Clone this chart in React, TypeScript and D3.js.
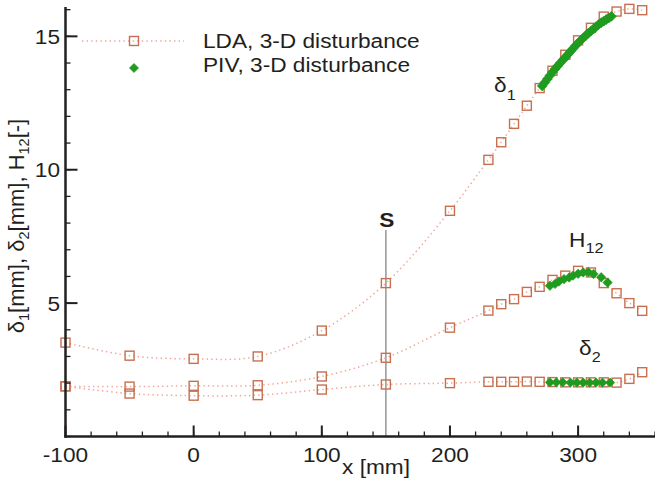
import React from "react";
import * as d3 from "d3";

// ---- data ----
const xLDA = [-100, -50, 0, 50, 100, 150, 200, 230, 240, 250, 260, 270, 280, 290, 300, 310, 320, 330, 340, 350];
const delta1LDA = [3.52, 3.03, 2.91, 3.0, 3.97, 5.75, 8.46, 10.37, 11.03, 11.72, 12.4, 13.06, 13.71, 14.31, 14.85, 15.32, 15.74, 15.93, 16.03, 15.98];
const h12LDA = [1.88, 1.87, 1.9, 1.92, 2.25, 2.95, 4.08, 4.72, 4.96, 5.15, 5.42, 5.61, 5.87, 6.03, 6.21, 6.15, 5.75, 5.37, 5.0, 4.71];
const delta2LDA = [1.88, 1.61, 1.53, 1.55, 1.76, 1.95, 2.0, 2.05, 2.05, 2.05, 2.06, 2.05, 2.04, 2.03, 2.03, 2.03, 2.03, 2.02, 2.16, 2.41];

const xPIVd1 = [272, 274, 276, 278, 280, 282, 284, 286, 288, 290, 292, 294, 296, 298, 300, 302, 304, 306, 308, 310, 312, 314, 316, 318, 320, 322, 324, 326];
const delta1PIV = [13.14, 13.27, 13.4, 13.53, 13.66, 13.78, 13.89, 14.0, 14.11, 14.21, 14.32, 14.43, 14.54, 14.65, 14.75, 14.85, 14.94, 15.03, 15.12, 15.2, 15.28, 15.36, 15.44, 15.51, 15.57, 15.63, 15.69, 15.75];

const xPIVh12 = [278, 282, 285, 289, 293, 296, 300, 304, 308, 312, 318, 323];
const h12PIV = [5.65, 5.72, 5.81, 5.9, 5.96, 6.03, 6.1, 6.15, 6.16, 6.09, 5.97, 5.77];

const xPIVd2 = [278, 283, 288, 294, 299, 304, 309, 314, 319, 325];
const delta2PIV = [2.03, 2.03, 2.03, 2.02, 2.02, 2.02, 2.02, 2.02, 2.02, 2.02];

const xMajorTicks = [-100, 0, 100, 200, 300];
const yMajorTicks = [5, 10, 15];
const legendLabels = ["LDA, 3-D disturbance", "PIV, 3-D disturbance"];
const sPosition = 150;

// ---- styles ----
const W = 655;
const H = 485;
const AXIS = "#231f20";
const SQ = "#c6704f";
const DOT = "#f0a59b";
const GREEN = "#1f9b1f";
const FONT = "'Liberation Sans', Arial, Helvetica, sans-serif";
const SX = 1.08;

const x = d3.scaleLinear().domain([-100, 360]).range([65.5, 655]);
const y = d3.scaleLinear().domain([0, 16.1]).range([436.5, 7]);

const lineGen = d3
  .line<[number, number]>()
  .x((d) => x(d[0]))
  .y((d) => y(d[1]))
  .curve(d3.curveCatmullRom);

const zip = (xs: number[], ys: number[]) => xs.map((v, i) => [v, ys[i]] as [number, number]);

const diamond = (cx: number, cy: number, r: number) =>
  `M${cx},${cy - r}L${cx + r},${cy}L${cx},${cy + r}L${cx - r},${cy}Z`;

const T = ({
  x: tx,
  y: ty,
  anchor = "start",
  size = 21,
  weight = "normal",
  children,
}: {
  x: number;
  y: number;
  anchor?: string;
  size?: number;
  weight?: string;
  children: React.ReactNode;
}) => (
  <text
    transform={`translate(${tx},${ty}) scale(${SX},1)`}
    fontSize={size}
    fontWeight={weight}
    textAnchor={anchor}
    fill={AXIS}
  >
    {children}
  </text>
);

const Square = ({ cx, cy }: { cx: number; cy: number }) => (
  <rect x={cx - 4.5} y={cy - 4.5} width={9} height={9} fill="none" stroke={SQ} strokeWidth={1.4} />
);

const LDAseries = ({ ys }: { ys: number[] }) => {
  const pts = zip(xLDA, ys);
  return (
    <g>
      <path d={lineGen(pts) || ""} fill="none" stroke={DOT} strokeWidth={1.5} strokeDasharray="1.4,3.2" />
      {pts.map((p, i) => (
        <Square key={i} cx={x(p[0])} cy={y(p[1])} />
      ))}
    </g>
  );
};

const PIVseries = ({ xs, ys, r }: { xs: number[]; ys: number[]; r: number }) => (
  <g>
    {xs.map((v, i) => (
      <path key={i} d={diamond(x(v), y(ys[i]), r)} fill={GREEN} stroke={GREEN} strokeWidth={0.6} />
    ))}
  </g>
);

export default function App() {
  const minorX = d3.range(-100, 361, 20);
  const minorY = d3.range(0, 17, 1);
  return (
    <svg
      width={W}
      height={H}
      style={{ position: "absolute", left: 0, top: 0, background: "#fff" }}
      fontFamily={FONT}
    >
      <rect width={W} height={H} fill="#fff" />

      {/* S line */}
      <line x1={x(sPosition)} x2={x(sPosition)} y1={230} y2={y(0)} stroke="#9d9d9d" strokeWidth={1.6} />
      <T x={x(sPosition) + 1} y={226.5} anchor="middle" weight="bold">
        S
      </T>

      {/* LDA series */}
      <LDAseries ys={delta1LDA} />
      <LDAseries ys={h12LDA} />
      <LDAseries ys={delta2LDA} />

      {/* PIV series */}
      <PIVseries xs={xPIVd1} ys={delta1PIV} r={5} />
      <PIVseries xs={xPIVh12} ys={h12PIV} r={4.7} />
      <PIVseries xs={xPIVd2} ys={delta2PIV} r={4.6} />

      {/* axes */}
      <line x1={x(-100)} x2={x(-100)} y1={y(16.1)} y2={y(0) + 1.2} stroke={AXIS} strokeWidth={2.5} />
      <line x1={x(-100) - 1.2} x2={W} y1={y(0)} y2={y(0)} stroke={AXIS} strokeWidth={2.5} />
      {minorX.map((v) => (
        <line key={"mx" + v} x1={x(v)} x2={x(v)} y1={y(0)} y2={y(0) - 5} stroke={AXIS} strokeWidth={1.3} />
      ))}
      {xMajorTicks.map((v) => (
        <g key={"Mx" + v}>
          <line x1={x(v)} x2={x(v)} y1={y(0)} y2={y(0) - 11} stroke={AXIS} strokeWidth={2} />
          <T x={x(v)} y={462} anchor="middle">
            {v}
          </T>
        </g>
      ))}
      {minorY.map((v) => (
        <line key={"my" + v} x1={x(-100)} x2={x(-100) + 5} y1={y(v)} y2={y(v)} stroke={AXIS} strokeWidth={1.3} />
      ))}
      {yMajorTicks.map((v) => (
        <g key={"My" + v}>
          <line x1={x(-100)} x2={x(-100) + 12} y1={y(v)} y2={y(v)} stroke={AXIS} strokeWidth={2} />
          <T x={60} y={y(v) + 7.5} anchor="end">
            {v}
          </T>
        </g>
      ))}

      {/* axis titles */}
      <T x={342} y={474}>x [mm]</T>
      <text transform="translate(24,226) rotate(-90)" fontSize={22} textAnchor="middle" fill={AXIS}>
        δ<tspan dy={5} fontSize={14.5}>1</tspan>
        <tspan dy={-5}>[mm], δ</tspan>
        <tspan dy={5} fontSize={14.5}>2</tspan>
        <tspan dy={-5}>[mm], H</tspan>
        <tspan dy={5} fontSize={14.5}>12</tspan>
        <tspan dy={-5}>[-]</tspan>
      </text>

      {/* curve labels */}
      <T x={494} y={91.5}>
        δ<tspan dy={8} fontSize={15}>1</tspan>
      </T>
      <T x={569} y={246.7}>
        H<tspan dy={6.5} fontSize={15}>12</tspan>
      </T>
      <T x={579} y={355}>
        δ<tspan dy={6.5} fontSize={15}>2</tspan>
      </T>

      {/* legend */}
      <line x1={82} x2={184} y1={41} y2={41} stroke={DOT} strokeWidth={1.5} strokeDasharray="1.4,3.2" />
      <Square cx={134} cy={41} />
      <path d={diamond(134, 68, 4.6)} fill={GREEN} stroke={GREEN} strokeWidth={0.6} />
      <T x={203} y={47.7}>{legendLabels[0]}</T>
      <T x={203} y={72}>{legendLabels[1]}</T>
    </svg>
  );
}
